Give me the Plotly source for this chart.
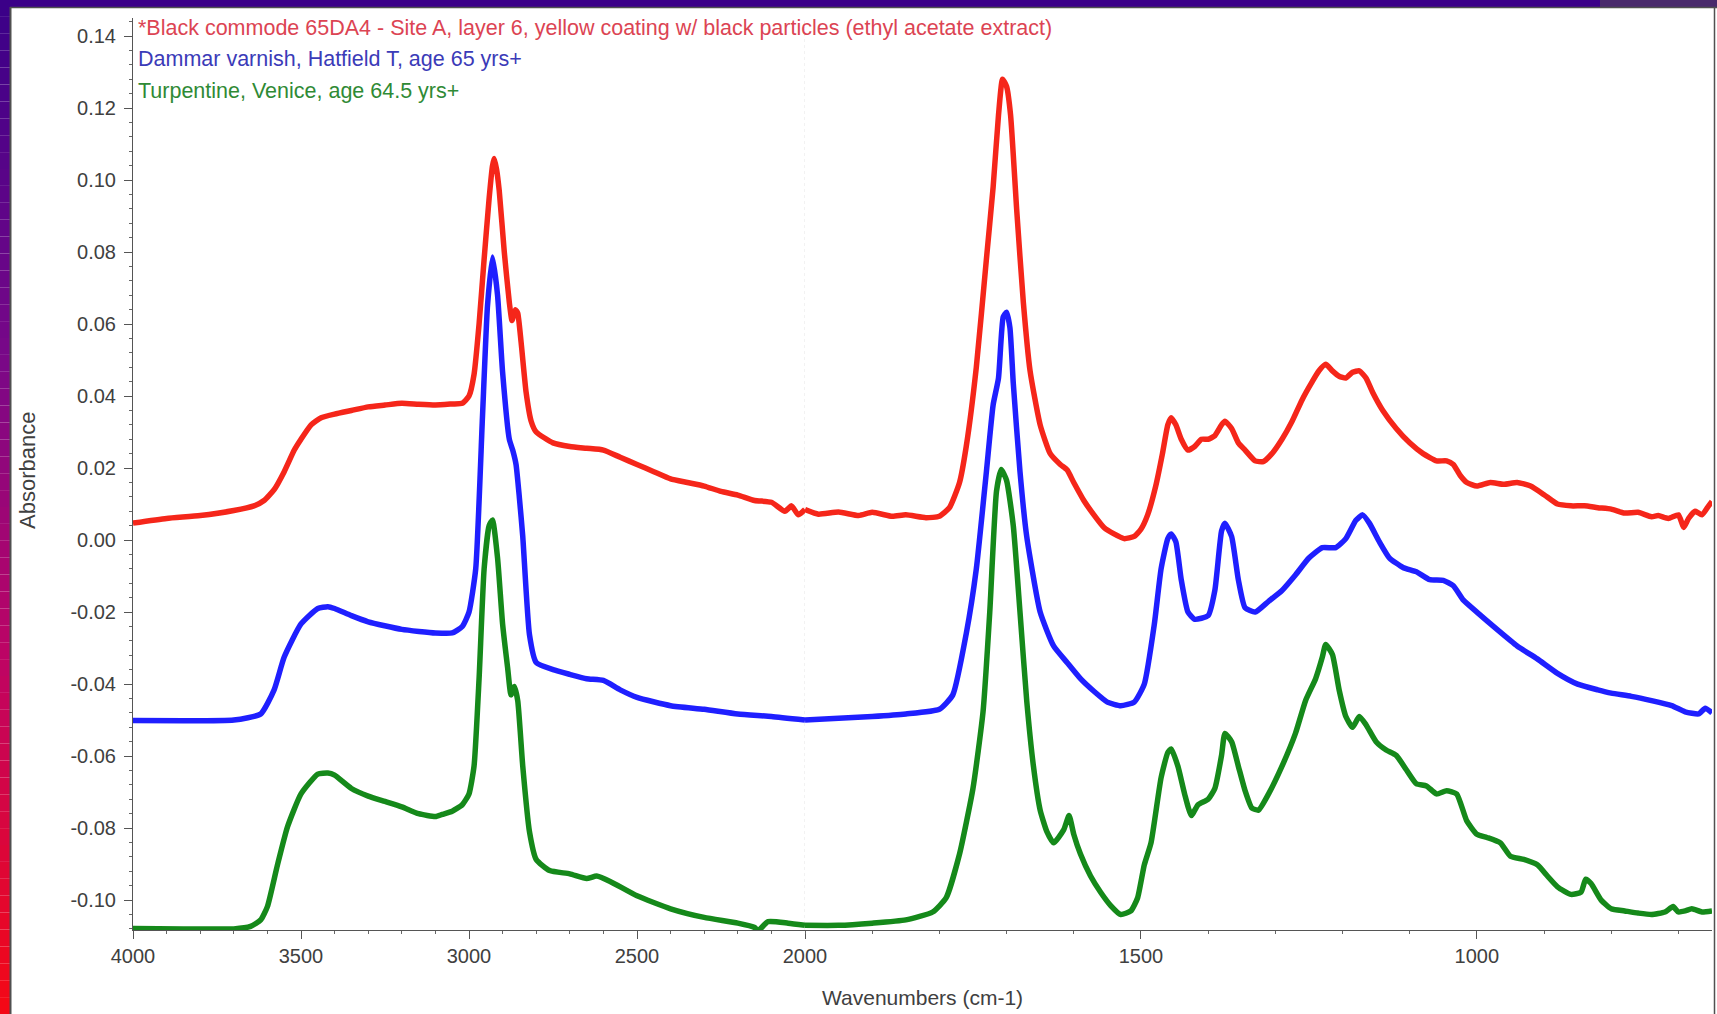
import plotly.graph_objects as go

# -------------------------------
# SPECTRA (wavenumber cm-1, absorbance)
# -------------------------------
wn_red = [4000, 3900, 3800, 3700, 3640, 3610, 3580, 3550, 3520, 3500, 3470, 3440, 3400, 3350, 3300,
          3250, 3200, 3150, 3100, 3050, 3020, 3000, 2985, 2970, 2955, 2940, 2930, 2925, 2918, 2910,
          2895, 2880, 2872, 2862, 2855, 2845, 2830, 2815, 2800, 2750, 2700, 2650, 2600, 2550, 2500,
          2450, 2400, 2350, 2300, 2250, 2200, 2150, 2100, 2060, 2040, 2020, 2000, 1980, 1950, 1920,
          1900, 1870, 1850, 1820, 1800, 1785, 1770, 1760, 1745, 1730, 1720, 1712, 1706, 1700, 1694,
          1685, 1675, 1665, 1650, 1635, 1620, 1610, 1600, 1585, 1570, 1555, 1540, 1525, 1510, 1500,
          1490, 1478, 1468, 1460, 1455, 1448, 1440, 1430, 1420, 1410, 1400, 1390, 1380, 1375, 1365,
          1355, 1345, 1330, 1318, 1305, 1290, 1275, 1260, 1245, 1235, 1225, 1215, 1205, 1195, 1185,
          1175, 1165, 1155, 1140, 1120, 1100, 1080, 1060, 1045, 1035, 1025, 1015, 1000, 980, 960,
          940, 920, 900, 880, 860, 840, 820, 800, 780, 760, 740, 730, 715, 700, 692,
          685, 675, 665, 655, 650]
abs_red = [0.0047, 0.006, 0.0068, 0.0082, 0.0095, 0.011, 0.014, 0.019, 0.025, 0.028, 0.032, 0.034, 0.035, 0.036, 0.037,
           0.0375, 0.038, 0.0377, 0.0375, 0.0378, 0.038, 0.040, 0.046, 0.060, 0.078, 0.095, 0.104, 0.106, 0.103, 0.097,
           0.080, 0.066, 0.061, 0.064, 0.063, 0.055, 0.041, 0.033, 0.030, 0.027, 0.026, 0.0255, 0.025, 0.023, 0.021,
           0.019, 0.017, 0.016, 0.015, 0.0135, 0.0125, 0.011, 0.0105, 0.008, 0.0095, 0.007, 0.0085, 0.0072, 0.0078, 0.0068,
           0.0077, 0.0066, 0.007, 0.0062, 0.0066, 0.009, 0.016, 0.026, 0.048, 0.078, 0.098, 0.118, 0.128, 0.126, 0.118,
           0.092, 0.066, 0.047, 0.032, 0.024, 0.021, 0.0195, 0.016, 0.011, 0.007, 0.0035, 0.0017, 0.0004, 0.001, 0.003,
           0.007, 0.015, 0.024, 0.032, 0.034, 0.032, 0.028, 0.025, 0.026, 0.028, 0.028, 0.029, 0.032, 0.033, 0.031,
           0.027, 0.025, 0.022, 0.0218, 0.024, 0.028, 0.033, 0.039, 0.044, 0.047, 0.0488, 0.047, 0.0455, 0.045, 0.0466,
           0.047, 0.045, 0.041, 0.036, 0.031, 0.027, 0.024, 0.022, 0.022, 0.021, 0.018, 0.016, 0.015, 0.016, 0.0155,
           0.016, 0.015, 0.0126, 0.010, 0.0095, 0.0095, 0.009, 0.0086, 0.0075, 0.0077, 0.0065, 0.0068, 0.006, 0.007, 0.0035,
           0.006, 0.008, 0.007, 0.0095, 0.0107]

wn_blue = [4000, 3850, 3700, 3620, 3580, 3550, 3500, 3450, 3420, 3400, 3350, 3300, 3200, 3100, 3050,
           3020, 3000, 2980, 2960, 2945, 2930, 2915, 2900, 2880, 2870, 2860, 2850, 2840, 2820, 2800,
           2750, 2700, 2650, 2600, 2550, 2500, 2400, 2300, 2200, 2100, 2000, 1900, 1850, 1800, 1780,
           1760, 1745, 1730, 1720, 1712, 1705, 1700, 1695, 1690, 1680, 1670, 1650, 1630, 1610, 1590,
           1570, 1550, 1530, 1510, 1495, 1480, 1470, 1460, 1455, 1448, 1440, 1430, 1420, 1400, 1390,
           1380, 1375, 1365, 1355, 1345, 1330, 1310, 1290, 1270, 1250, 1230, 1210, 1195, 1180, 1170,
           1160, 1145, 1130, 1110, 1090, 1070, 1050, 1035, 1020, 1000, 970, 940, 910, 880, 850,
           820, 800, 770, 740, 710, 690, 670, 660, 650]
abs_blue = [-0.0501, -0.0502, -0.050, -0.0483, -0.0416, -0.0325, -0.0233, -0.019, -0.0185, -0.019, -0.021, -0.0227, -0.0248, -0.0258, -0.0258,
            -0.024, -0.020, -0.008, 0.034, 0.065, 0.0786, 0.068, 0.0466, 0.028, 0.025, 0.021, 0.0117, 0.001, -0.0263, -0.034,
            -0.036, -0.0373, -0.0385, -0.039, -0.0416, -0.0437, -0.046, -0.047, -0.0483, -0.049, -0.050, -0.049, -0.0483, -0.047, -0.043,
            -0.026, -0.008, 0.019, 0.0375, 0.045, 0.062, 0.0633, 0.059, 0.0436, 0.019, 0.001, -0.020, -0.0294, -0.034, -0.0385,
            -0.042, -0.045, -0.046, -0.045, -0.040, -0.0233, -0.008, 0.0004, 0.0017, -0.0005, -0.011, -0.020, -0.022, -0.021, -0.014,
            0.0025, 0.0047, 0.001, -0.011, -0.0188, -0.020, -0.017, -0.014, -0.0097, -0.005, -0.0021, -0.0021, 0.0004, 0.0055, 0.007,
            0.0047, -0.0005, -0.005, -0.0076, -0.0088, -0.011, -0.0112, -0.0127, -0.0167, -0.020, -0.0248, -0.0294, -0.033, -0.037, -0.040,
            -0.0416, -0.0425, -0.0434, -0.0446, -0.046, -0.0477, -0.0483, -0.0467, -0.048]

wn_green = [4000, 3850, 3700, 3650, 3620, 3600, 3570, 3540, 3500, 3450, 3420, 3400, 3350, 3300, 3250,
            3200, 3150, 3100, 3080, 3050, 3020, 3000, 2985, 2970, 2955, 2940, 2930, 2915, 2900, 2885,
            2875, 2865, 2855, 2840, 2820, 2800, 2760, 2700, 2650, 2620, 2580, 2500, 2400, 2300, 2200,
            2150, 2140, 2110, 2050, 2000, 1950, 1900, 1850, 1810, 1790, 1770, 1750, 1735, 1725, 1715,
            1708, 1700, 1690, 1680, 1670, 1660, 1650, 1640, 1630, 1615, 1607, 1600, 1590, 1575, 1560,
            1545, 1530, 1515, 1505, 1495, 1485, 1470, 1460, 1455, 1445, 1435, 1425, 1415, 1400, 1390,
            1380, 1375, 1365, 1355, 1345, 1335, 1325, 1310, 1290, 1270, 1255, 1240, 1230, 1225, 1215,
            1205, 1195, 1185, 1175, 1165, 1150, 1135, 1120, 1105, 1090, 1075, 1060, 1045, 1030, 1015,
            1000, 985, 965, 950, 930, 910, 895, 880, 860, 845, 838, 830, 815, 800, 780,
            760, 740, 720, 708, 700, 690, 680, 665, 650]
abs_green = [-0.1079, -0.108, -0.108, -0.1073, -0.1055, -0.1018, -0.0902, -0.0796, -0.0705, -0.065, -0.0647, -0.0653, -0.069, -0.0711, -0.0726,
             -0.0741, -0.076, -0.0768, -0.0762, -0.0753, -0.0735, -0.0705, -0.0628, -0.0385, -0.008, 0.004, 0.0056, -0.005, -0.0233, -0.0355,
             -0.043, -0.0407, -0.0446, -0.0628, -0.081, -0.0887, -0.0918, -0.0927, -0.094, -0.0933, -0.0948, -0.0988, -0.1024, -0.1048, -0.1064,
             -0.1076, -0.1085, -0.106, -0.1064, -0.107, -0.107, -0.1064, -0.1055, -0.1033, -0.0994, -0.0872, -0.069, -0.0477, -0.020, 0.0135,
             0.0196, 0.0166, 0.004, -0.020, -0.0446, -0.0628, -0.075, -0.081, -0.0841, -0.0805, -0.0765, -0.0817, -0.0872, -0.0933, -0.0978,
             -0.1015, -0.104, -0.103, -0.0994, -0.0902, -0.0841, -0.066, -0.059, -0.058, -0.0628, -0.0705, -0.0765, -0.0735, -0.072, -0.069,
             -0.0598, -0.0537, -0.056, -0.0628, -0.0696, -0.0744, -0.075, -0.0705, -0.0628, -0.0537, -0.0446, -0.0385, -0.0325, -0.029, -0.0318,
             -0.0416, -0.049, -0.052, -0.049, -0.0513, -0.056, -0.0583, -0.0598, -0.0638, -0.0677, -0.0683, -0.0705, -0.0696, -0.0705, -0.078,
             -0.0817, -0.0826, -0.0841, -0.0878, -0.0887, -0.0902, -0.0933, -0.0963, -0.0984, -0.0978, -0.0942, -0.0954, -0.100, -0.1024, -0.103,
             -0.1036, -0.104, -0.1033, -0.1018, -0.1033, -0.103, -0.1024, -0.1033, -0.103]

series_names = [
    "*Black commode 65DA4 - Site A, layer 6, yellow coating w/ black particles (ethyl acetate extract)",
    "Dammar varnish, Hatfield T, age 65 yrs+",
    "Turpentine, Venice, age 64.5 yrs+",
]

xtick_hi = [4000, 3500, 3000, 2500, 2000]
xtick_lo = [1500, 1000]
ytick_vals = [-0.10, -0.08, -0.06, -0.04, -0.02, 0.00, 0.02, 0.04, 0.06, 0.08, 0.10, 0.12, 0.14]
ytick_text = ["-0.10", "-0.08", "-0.06", "-0.04", "-0.02", "0.00", "0.02", "0.04", "0.06", "0.08", "0.10", "0.12", "0.14"]

line_colors = ["#f5261a", "#1f1fff", "#15891a"]
text_colors = ["#dc4453", "#3b3bb8", "#2f8a35"]

# OMNIC-style axis: 4000-2000 compressed, below 2000 expanded 2x
W, H = 1717, 1014
L, R, T, B = 133, 5, 18, 84
plot_w = W - L - R
split = 672 / plot_w

FONT = "Liberation Sans, Arial, sans-serif"

fig = go.Figure()

for wn, ab, col in [(wn_red, abs_red, line_colors[0]),
                    (wn_blue, abs_blue, line_colors[1]),
                    (wn_green, abs_green, line_colors[2])]:
    hi = [(w, a) for w, a in zip(wn, ab) if w >= 2000]
    lo = [(w, a) for w, a in zip(wn, ab) if w <= 2000]
    fig.add_trace(go.Scatter(x=[p[0] for p in hi], y=[p[1] for p in hi], mode="lines",
                             line=dict(color=col, width=5.5, shape="spline", smoothing=0.5),
                             xaxis="x", yaxis="y", showlegend=False))
    fig.add_trace(go.Scatter(x=[p[0] for p in lo], y=[p[1] for p in lo], mode="lines",
                             line=dict(color=col, width=5.5, shape="spline", smoothing=0.5),
                             xaxis="x2", yaxis="y", showlegend=False))

axis_common = dict(
    showline=True, linecolor="#555555", linewidth=1, showgrid=False, zeroline=False,
    ticks="outside", ticklen=8, tickcolor="#555555", automargin=False,
    tickfont=dict(family=FONT, size=20, color="#404040"),
)

fig.update_layout(
    width=W, height=H,
    margin=dict(l=L, r=R, t=T, b=B),
    paper_bgcolor="white", plot_bgcolor="white",
    font=dict(family=FONT, color="#404040"),
    xaxis=dict(domain=[0, split], range=[4000, 2000], tickvals=xtick_hi,
               minor=dict(dtick=100, tick0=0, ticks="outside", ticklen=3, tickcolor="#666666"),
               anchor="y", **axis_common),
    xaxis2=dict(domain=[split, 1], range=[2000, 650], tickvals=xtick_lo,
                minor=dict(dtick=100, tick0=0, ticks="outside", ticklen=3, tickcolor="#666666"),
                anchor="y", **axis_common),
    yaxis=dict(range=[-0.1083, 0.145], tickvals=ytick_vals, ticktext=ytick_text,
               minor=dict(dtick=0.004, tick0=0, ticks="outside", ticklen=3, tickcolor="#666666"),
               ticklabelstandoff=4, anchor="x", **axis_common),
)

# axis titles
fig.add_annotation(text="Wavenumbers (cm-1)", xref="paper", yref="paper", x=0.5, y=(930 - 997) / 912,
                   xanchor="center", yanchor="middle",
                   showarrow=False, font=dict(family=FONT, size=21, color="#404040"))
fig.add_annotation(text="Absorbance", xref="paper", yref="paper", x=(27 - L) / plot_w, y=(930 - 471) / 912,
                   xanchor="center", yanchor="middle",
                   textangle=-90, showarrow=False, font=dict(family=FONT, size=22, color="#404040"))

# spectrum labels (top-left)
for i, (name, col) in enumerate(zip(series_names, text_colors)):
    fig.add_annotation(text=name, xref="paper", yref="paper", x=(136 - L) / plot_w,
                       y=(930 - (28.5 + 31 * i)) / 912, xanchor="left", yanchor="middle",
                       showarrow=False, font=dict(family=FONT, size=21.5, color=col))

# faint dotted divider at the scale change
fig.add_shape(type="line", xref="x", yref="paper", x0=2000, x1=2000, y0=0, y1=1,
              line=dict(color="#e4e4e4", width=1, dash="dot"), layer="below")


# -------------------------------
# SLIDE FRAME (gradient border)
# -------------------------------
def px_x(px):
    return (px - L) / plot_w


def px_y(py):
    return (H - B - py) / (H - T - B)


def mix(c1, c2, t):
    return "rgb(%d,%d,%d)" % tuple(round(a + (b - a) * t) for a, b in zip(c1, c2))


stops = [(0, (58, 0, 136)), (0.35, (120, 8, 136)), (0.65, (190, 4, 100)), (1.0, (245, 8, 20))]
n_bands = 60
for k in range(n_bands):
    y0, y1 = H * k / n_bands, H * (k + 1) / n_bands
    t = (k + 0.5) / n_bands
    for (s0, c0), (s1, c1) in zip(stops[:-1], stops[1:]):
        if s0 <= t <= s1:
            col = mix(c0, c1, (t - s0) / (s1 - s0))
            break
    fig.add_shape(type="rect", xref="paper", yref="paper", x0=px_x(0), x1=px_x(10),
                  y0=px_y(y1), y1=px_y(y0), fillcolor=col, line=dict(width=0), layer="above")

fig.add_shape(type="rect", xref="paper", yref="paper", x0=px_x(0), x1=px_x(W),
              y0=px_y(7), y1=px_y(0), fillcolor="#3b0088", line=dict(width=0), layer="above")
fig.add_shape(type="rect", xref="paper", yref="paper", x0=px_x(1600), x1=px_x(W),
              y0=px_y(7), y1=px_y(0), fillcolor="#4a2a6c", line=dict(width=0), layer="above")
# thin dark edges of the white panel
fig.add_shape(type="line", xref="paper", yref="paper", x0=px_x(10.5), x1=px_x(10.5),
              y0=px_y(H), y1=px_y(7), line=dict(color="#505050", width=2), layer="above")
fig.add_shape(type="line", xref="paper", yref="paper", x0=px_x(10), x1=px_x(W),
              y0=px_y(7.5), y1=px_y(7.5), line=dict(color="#505050", width=1.5), layer="above")
fig.add_shape(type="line", xref="paper", yref="paper", x0=px_x(1714.5), x1=px_x(1714.5),
              y0=px_y(H), y1=px_y(7), line=dict(color="#505050", width=1.5), layer="above")

# the page body's default 8px margin would shift the figure
fig.write_html("out.html", config={"displayModeBar": False},
               post_script="document.body.style.margin='0';")
